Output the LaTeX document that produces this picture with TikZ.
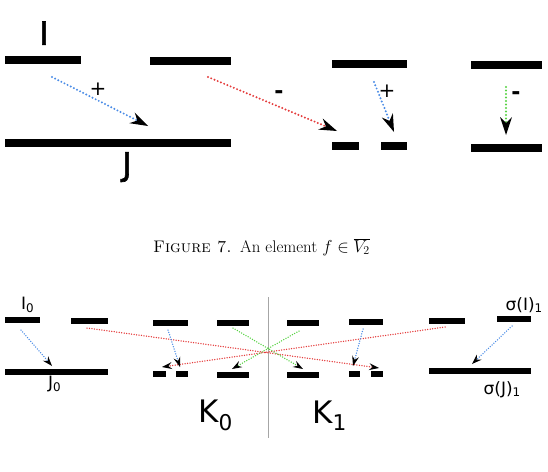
\documentclass[tikz,border=0pt]{standalone}
\usepackage{fontspec}
\newfontfamily\lab{DejaVu Sans}
\newfontfamily\labfb[FakeBold=2]{DejaVu Sans}
\usetikzlibrary{arrows.meta}
\definecolor{dblue}{RGB}{75,140,230}
\definecolor{dred}{RGB}{228,60,60}
\definecolor{dgreen}{RGB}{85,210,65}
\tikzset{
  bar/.style={fill=black, inner sep=0pt, minimum height=8pt, draw=none},
  sbar/.style={fill=black, inner sep=0pt, minimum height=6pt, draw=none},
  bigarr/.style={line width=2.2pt, dash pattern=on 0pt off 3.5pt, line cap=round,
    -{Stealth[length=18pt,width=12pt,inset=6pt,black,line width=0pt]}},
  smallarr/.style={line width=1.5pt, dash pattern=on 0pt off 2.5pt, line cap=round,
    -{Stealth[length=10pt,width=7pt,inset=3.5pt,black,line width=0pt]}},
  biglab/.style={font=\lab\fontsize{31}{31}\selectfont, inner sep=0pt},
  toplab/.style={font=\labfb\fontsize{32}{32}\selectfont, inner sep=0pt},
  sign/.style={font=\lab\fontsize{20}{20}\selectfont, inner sep=0pt},
  minus/.style={font=\lab\bfseries\fontsize{22}{22}\selectfont, inner sep=0pt},
  midlab/.style={font=\lab\fontsize{17}{17}\selectfont, inner sep=0pt},
}
\begin{document}
\begin{tikzpicture}[x=1pt,y=-1pt]
\useasboundingbox (0,0) rectangle (548,471);
% ---------- top figure ----------
\node[bar, minimum width=76pt] (t1) at (43,60) {};
\node[bar, minimum width=81pt] (t2) at (190,61) {};
\node[bar, minimum width=226pt] (tj) at (118,143) {};
\node[bar, minimum width=75pt] (t3) at (369.5,64) {};
\node[bar, minimum width=27pt] (t3a) at (345.5,146) {};
\node[bar, minimum width=26pt] (t3b) at (394,146) {};
\node[bar, minimum width=71pt] (t4) at (506.5,65) {};
\node[bar, minimum width=71pt] (t4b) at (506.5,148) {};
\node[toplab, anchor=south] (lI) at (44,45) {I};
\node[toplab, anchor=north] (lJ) at (127,152) {J};
\coordinate (a1s) at (52,77); \coordinate (a1e) at (148,126);
\coordinate (a2s) at (208,77); \coordinate (a2e) at (337,131);
\coordinate (a3s) at (374,82); \coordinate (a3e) at (394,132);
\coordinate (a4s) at (506,87); \coordinate (a4e) at (506,135);
\draw[bigarr, dblue] (a1s) -- (a1e);
\draw[bigarr, dred] (a2s) -- (a2e);
\draw[bigarr, dblue] (a3s) -- (a3e);
\draw[bigarr, dgreen] (a4s) -- (a4e);
\node[sign] (p1) at (98,89) {+};
\node[minus] (m1) at (279,95) {-};
\node[sign] (p2) at (387,91) {+};
\node[minus] (m2) at (516,96) {-};
% ---------- caption ----------
\node[font=\fontsize{16.8}{19}\selectfont, inner sep=0pt] (cap) at (261.5,247)
  {\textsc{Figure 7.}\enskip An element $f\in\overline{V_2}$};
% ---------- bottom figure ----------
\node[sbar, minimum width=35pt] (b1) at (22.5,320) {};
\node[sbar, minimum width=37pt] (b2) at (89.5,321) {};
\node[sbar, minimum width=103pt] (bj) at (56.5,372) {};
\node[sbar, minimum width=35pt] (b3) at (170.5,323) {};
\node[sbar, minimum width=13pt] (b3a) at (159.5,374) {};
\node[sbar, minimum width=12pt] (b3b) at (182,374) {};
\node[sbar, minimum width=32pt] (b4) at (233,323) {};
\node[sbar, minimum width=32pt] (b4b) at (233,375) {};
\node[sbar, minimum width=32pt] (b5) at (303,323) {};
\node[sbar, minimum width=32pt] (b5b) at (303,375) {};
\node[sbar, minimum width=34pt] (b6) at (366,322) {};
\node[sbar, minimum width=11pt] (b6a) at (354.5,374) {};
\node[sbar, minimum width=12pt] (b6b) at (377,374) {};
\node[sbar, minimum width=36pt] (b7) at (447,321) {};
\node[sbar, minimum width=34pt] (b8) at (514,319) {};
\node[sbar, minimum width=102pt] (bs) at (480,371) {};
\coordinate (vt) at (268,297); \coordinate (vb) at (268,438);
\draw[gray!70, line width=0.7pt] (vt) -- (vb);
\node[midlab, anchor=south west] (lI0) at (21,313) {I\textsubscript{0}};
\node[midlab, anchor=north west] (lJ0) at (48,376) {J\textsubscript{0}};
\node[midlab, anchor=south east] (lsI) at (543,313) {σ(I)\textsubscript{1}};
\node[midlab, anchor=north east] (lsJ) at (521,381) {σ(J)\textsubscript{1}};
\node[biglab, anchor=south west] (lK0) at (198,431) {K\textsubscript{0}};
\node[biglab, anchor=south west] (lK1) at (312,431) {K\textsubscript{1}};
\coordinate (c1s) at (21,330); \coordinate (c1e) at (52,366);
\coordinate (c2s) at (168,330); \coordinate (c2e) at (180,367);
\coordinate (c3s) at (363,329); \coordinate (c3e) at (353,366);
\coordinate (c4s) at (512,326); \coordinate (c4e) at (472,364);
\coordinate (r1s) at (87,328); \coordinate (r1e) at (379,368);
\coordinate (r2s) at (445,327); \coordinate (r2e) at (162,367);
\coordinate (g1s) at (233,328); \coordinate (g1e) at (303,369);
\coordinate (g2s) at (299,331); \coordinate (g2e) at (232,369);
\draw[smallarr, dred] (r1s) -- (r1e);
\draw[smallarr, dred] (r2s) -- (r2e);
\draw[smallarr, dgreen] (g1s) -- (g1e);
\draw[smallarr, dgreen] (g2s) -- (g2e);
\draw[smallarr, dblue] (c1s) -- (c1e);
\draw[smallarr, dblue] (c2s) -- (c2e);
\draw[smallarr, dblue] (c3s) -- (c3e);
\draw[smallarr, dblue] (c4s) -- (c4e);
\end{tikzpicture}
\end{document}
